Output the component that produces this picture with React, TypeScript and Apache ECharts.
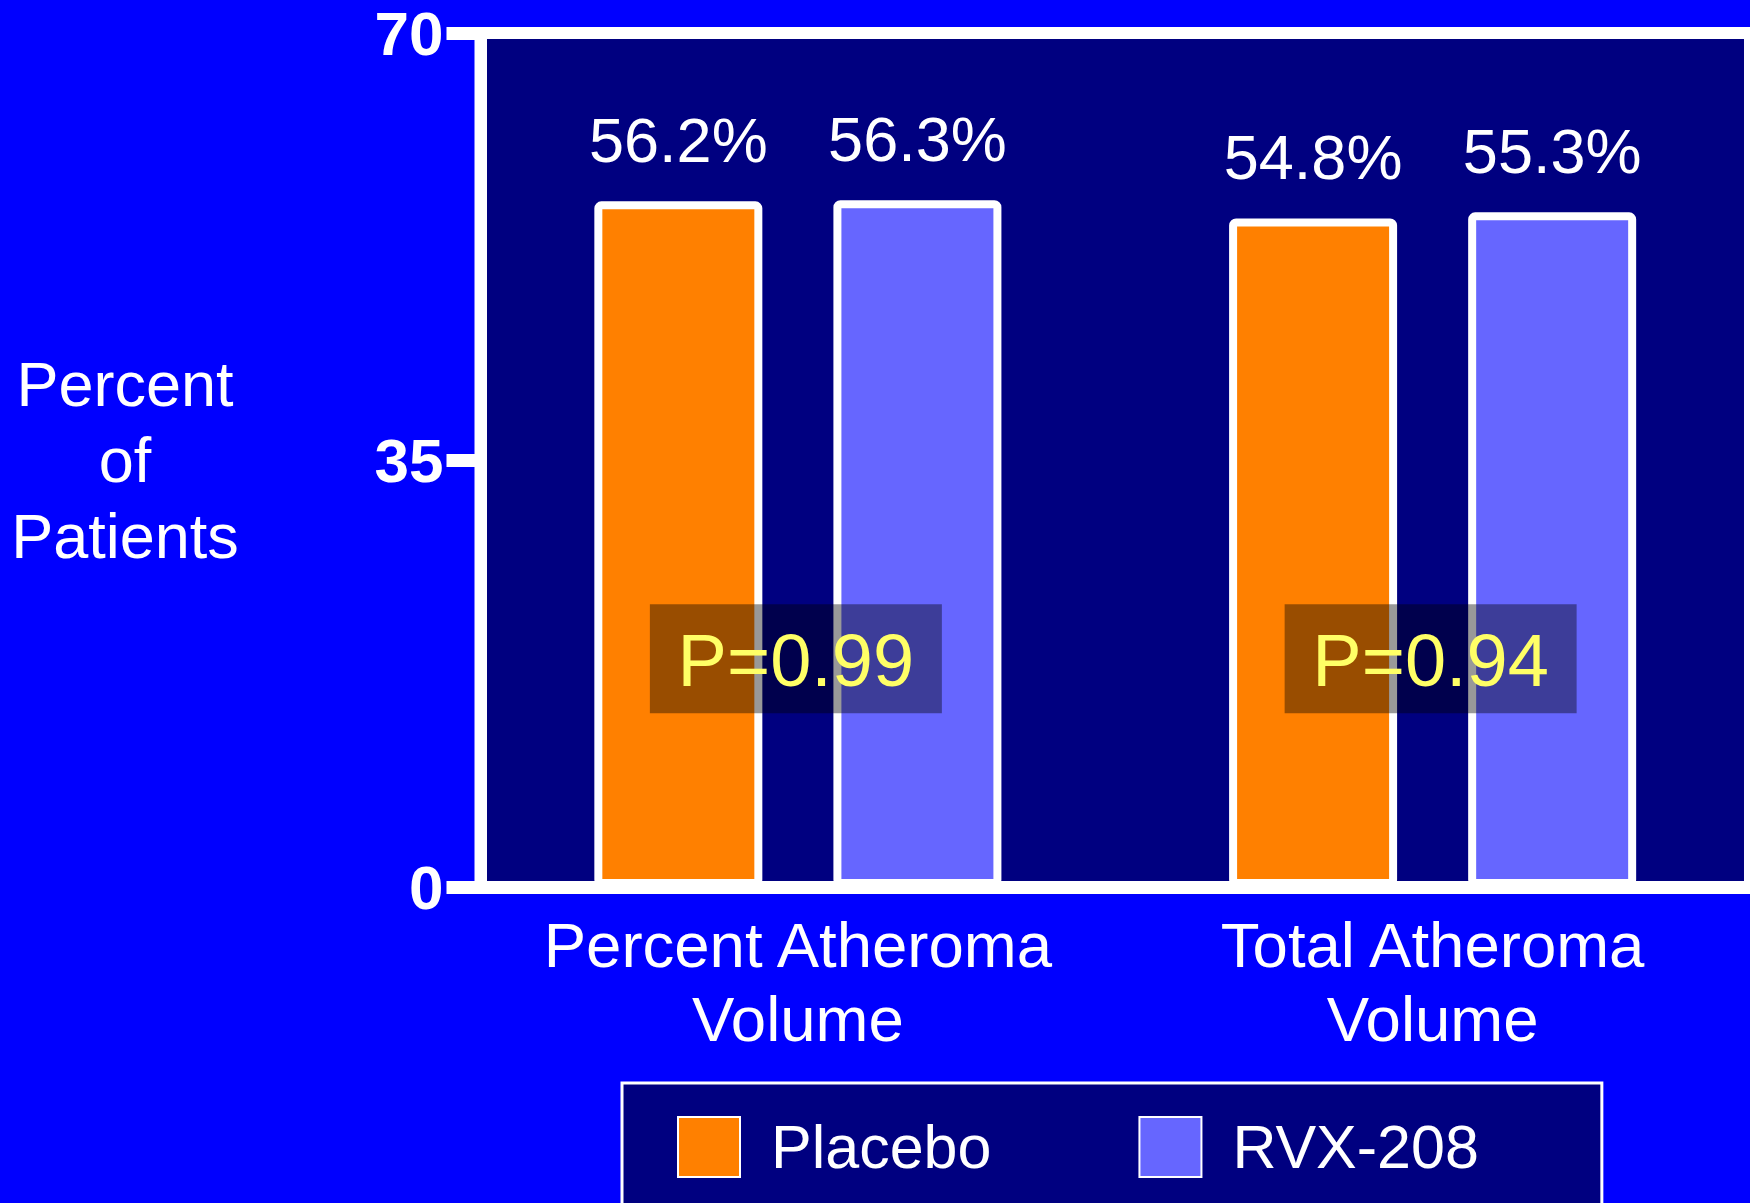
import React, { useEffect, useRef } from "react";
import * as echarts from "echarts";

// Outcome categories (x axis)
const categories = ["Percent Atheroma\nVolume", "Total Atheroma\nVolume"];
// Percent of patients per arm
const placebo = [56.2, 54.8];
const rvx208 = [56.3, 55.3];
// Between-arm p-values, shown in a box over each group
const pValues = [0.99, 0.94];
const pBoxLevel = 18.8;
// Y axis ticks
const yMin = 0;
const yMax = 70;
const yStep = 35;

const FONT = "'Liberation Sans', Arial, Helvetica, sans-serif";
const ORANGE = "#FF8000";
const LAVENDER = "#6666FF";
const NAVY = "#000080";
const BLUE = "#0000FF";
const YELLOW = "#FFFF66";

export default function App() {
  const ref = useRef<HTMLDivElement>(null);

  useEffect(() => {
    if (!ref.current) return;
    const chart = echarts.init(ref.current, null, { renderer: "svg" });

    const barLabel = {
      show: true,
      position: "top" as const,
      distance: 30,
      color: "#FFFFFF",
      fontFamily: FONT,
      fontSize: 63,
      formatter: (p: any) => `${p.value.toFixed(1)}%`,
    };

    const barItem = (color: string) => ({
      color,
      borderColor: "#FFFFFF",
      borderWidth: 8,
      borderRadius: 3,
    });

    const option: any = {
      animation: false,
      backgroundColor: BLUE,
      textStyle: { fontFamily: FONT },
      grid: {
        left: 480.5,
        top: 33,
        width: 1283,
        height: 854,
        show: true,
        backgroundColor: NAVY,
        borderColor: "#FFFFFF",
        borderWidth: 12,
        containLabel: false,
      },
      legend: {
        data: ["Placebo", "RVX-208"],
        left: 622,
        top: 1083,
        orient: "horizontal",
        backgroundColor: NAVY,
        borderColor: "#FFFFFF",
        borderWidth: 3,
        padding: [33, 123, 33, 55],
        itemWidth: 62,
        itemHeight: 60,
        itemGap: 147,
        icon: "rect",
        textStyle: {
          color: "#FFFFFF",
          fontFamily: FONT,
          fontSize: 61,
          padding: [0, 0, 0, 26],
        },
      },
      xAxis: {
        type: "category",
        data: categories,
        axisLine: { show: true, lineStyle: { color: "#FFFFFF", width: 13 } },
        axisTick: { show: false },
        axisLabel: {
          color: "#FFFFFF",
          fontFamily: FONT,
          fontSize: 63.5,
          lineHeight: 74,
          margin: 21,
          interval: 0,
        },
      },
      yAxis: {
        type: "value",
        min: yMin,
        max: yMax,
        interval: yStep,
        axisLine: { show: true, lineStyle: { color: "#FFFFFF", width: 12 } },
        axisTick: {
          show: true,
          length: 34,
          lineStyle: { color: "#FFFFFF", width: 13 },
        },
        splitLine: { show: false },
        axisLabel: {
          color: "#FFFFFF",
          fontFamily: FONT,
          fontWeight: "bold",
          fontSize: 62,
          margin: 37,
        },
      },
      graphic: [
        {
          type: "text",
          x: 125,
          y: 460,
          style: {
            text: "Percent\nof\nPatients",
            fill: "#FFFFFF",
            font: `63px ${FONT}`,
            lineHeight: 76,
            textAlign: "center",
            textVerticalAlign: "middle",
          },
        },
      ],
      series: [
        {
          name: "Placebo",
          type: "bar",
          data: placebo,
          barWidth: 168,
          barGap: "42.3%",
          itemStyle: barItem(ORANGE),
          label: barLabel,
        },
        {
          name: "RVX-208",
          type: "bar",
          data: rvx208,
          barWidth: 168,
          barGap: "42.3%",
          itemStyle: barItem(LAVENDER),
          label: barLabel,
        },
        {
          name: "p",
          type: "custom",
          z: 10,
          data: pValues.map((p, i) => [i, pBoxLevel, p]),
          encode: { x: 0, y: 1 },
          renderItem: (params: any, api: any) => {
            const c = api.coord([api.value(0), api.value(1)]);
            const w = 292;
            const h = 109;
            return {
              type: "group",
              children: [
                {
                  type: "rect",
                  shape: { x: c[0] - w / 2 - 2, y: c[1] - h / 2 + 1, width: w, height: h },
                  style: { fill: "rgba(0,0,0,0.4)" },
                },
                {
                  type: "text",
                  x: c[0] - 2,
                  y: c[1] + 3,
                  style: {
                    text: `P=${Number(api.value(2)).toFixed(2)}`,
                    fill: YELLOW,
                    font: `74px ${FONT}`,
                    textAlign: "center",
                    textVerticalAlign: "middle",
                  },
                },
              ],
            };
          },
        },
      ],
    };

    chart.setOption(option);
    return () => chart.dispose();
  }, []);

  return (
    <div
      ref={ref}
      style={{ position: "fixed", left: 0, top: 0, width: 1750, height: 1203 }}
    />
  );
}
